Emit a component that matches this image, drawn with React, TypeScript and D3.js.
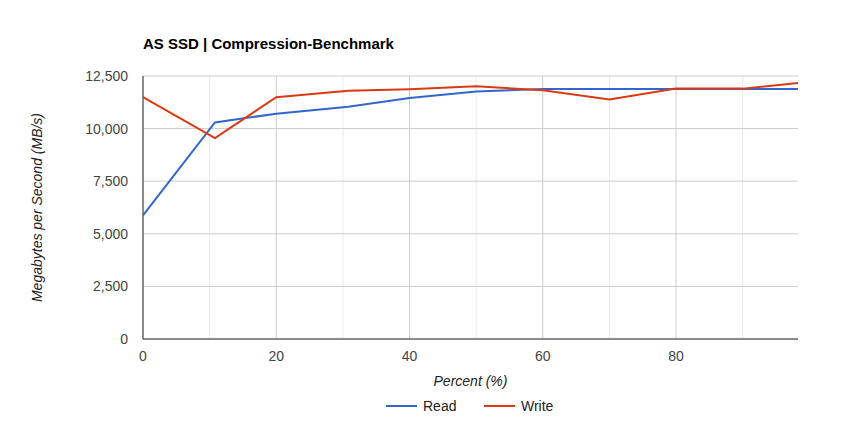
import React from 'react';
import * as d3 from 'd3';

const percents = [0, 10.8, 20, 30.8, 40, 50, 60, 70, 80, 90, 98.3];
const readValues = [5880, 10290, 10710, 11040, 11450, 11760, 11880, 11880, 11880, 11880, 11880];
const writeValues = [11500, 9550, 11490, 11800, 11870, 12010, 11820, 11380, 11900, 11900, 12170];
const yTicks = [0, 2500, 5000, 7500, 10000, 12500];
const xMajorTicks = [0, 20, 40, 60, 80];
const xMinorTicks = [10, 30, 50, 70, 90];

const series = [
    { name: 'Read', color: '#3366cc', values: readValues },
    { name: 'Write', color: '#dc3912', values: writeValues },
];

const App: React.FC = () => {
    const width = 855;
    const height = 435;
    const margin = { top: 76, right: 57, bottom: 96, left: 143 };
    const font = 'Arial, "Liberation Sans", sans-serif';

    const xScale = d3.scaleLinear()
        .domain([0, 98.3])
        .range([margin.left, width - margin.right]);

    const yScale = d3.scaleLinear()
        .domain([0, 12500])
        .range([height - margin.bottom, margin.top]);

    const line = d3.line<[number, number]>()
        .x(d => xScale(d[0]))
        .y(d => yScale(d[1]));

    const fmt = d3.format(',');
    const bottom = height - margin.bottom;
    const right = width - margin.right;

    return (
        <svg width={width} height={height} style={{ position: 'absolute', left: 0, top: 0, fontFamily: font }}>
            <rect width={width} height={height} fill="#fff" />
            <text x={margin.left} y={49} fontSize={15} fontWeight="bold" fill="#000">AS SSD | Compression-Benchmark</text>

            {/* minor vertical gridlines */}
            {xMinorTicks.map(t => (
                <line key={'m' + t} x1={xScale(t)} x2={xScale(t)} y1={margin.top} y2={bottom} stroke="#ebebeb" />
            ))}
            {xMajorTicks.map(t => (
                <line key={'M' + t} x1={xScale(t)} x2={xScale(t)} y1={margin.top} y2={bottom} stroke="#cccccc" />
            ))}
            {yTicks.map(t => (
                <line key={'y' + t} x1={margin.left} x2={right} y1={yScale(t)} y2={yScale(t)} stroke="#cccccc" />
            ))}

            {/* axes */}
            <line x1={margin.left} x2={right} y1={bottom} y2={bottom} stroke="#333" />
            <line x1={margin.left} x2={margin.left} y1={margin.top} y2={bottom} stroke="#333" />

            {yTicks.map(t => (
                <text key={'yl' + t} x={margin.left - 15} y={yScale(t) + 5} textAnchor="end" fontSize={14} fill="#444">{fmt(t)}</text>
            ))}
            {xMajorTicks.map(t => (
                <text key={'xl' + t} x={xScale(t)} y={bottom + 22} textAnchor="middle" fontSize={14} fill="#444">{t}</text>
            ))}

            {series.map(s => (
                <path key={s.name}
                    d={line(percents.map((p, i) => [p, s.values[i]] as [number, number])) || ''}
                    fill="none" stroke={s.color} strokeWidth={2} />
            ))}

            <text x={(margin.left + right) / 2} y={bottom + 47} textAnchor="middle" fontSize={14} fontStyle="italic" fill="#222">Percent (%)</text>
            <text transform={`translate(42,${(margin.top + bottom) / 2}) rotate(-90)`} textAnchor="middle" fontSize={14} fontStyle="italic" fill="#222">Megabytes per Second (MB/s)</text>

            {/* legend */}
            {series.map((s, i) => {
                const lx = 386 + i * 98;
                return (
                    <g key={'lg' + s.name}>
                        <line x1={lx} x2={lx + 31} y1={406} y2={406} stroke={s.color} strokeWidth={2} />
                        <text x={lx + 37} y={411} fontSize={14} fill="#222">{s.name}</text>
                    </g>
                );
            })}
        </svg>
    );
};

export default App;
